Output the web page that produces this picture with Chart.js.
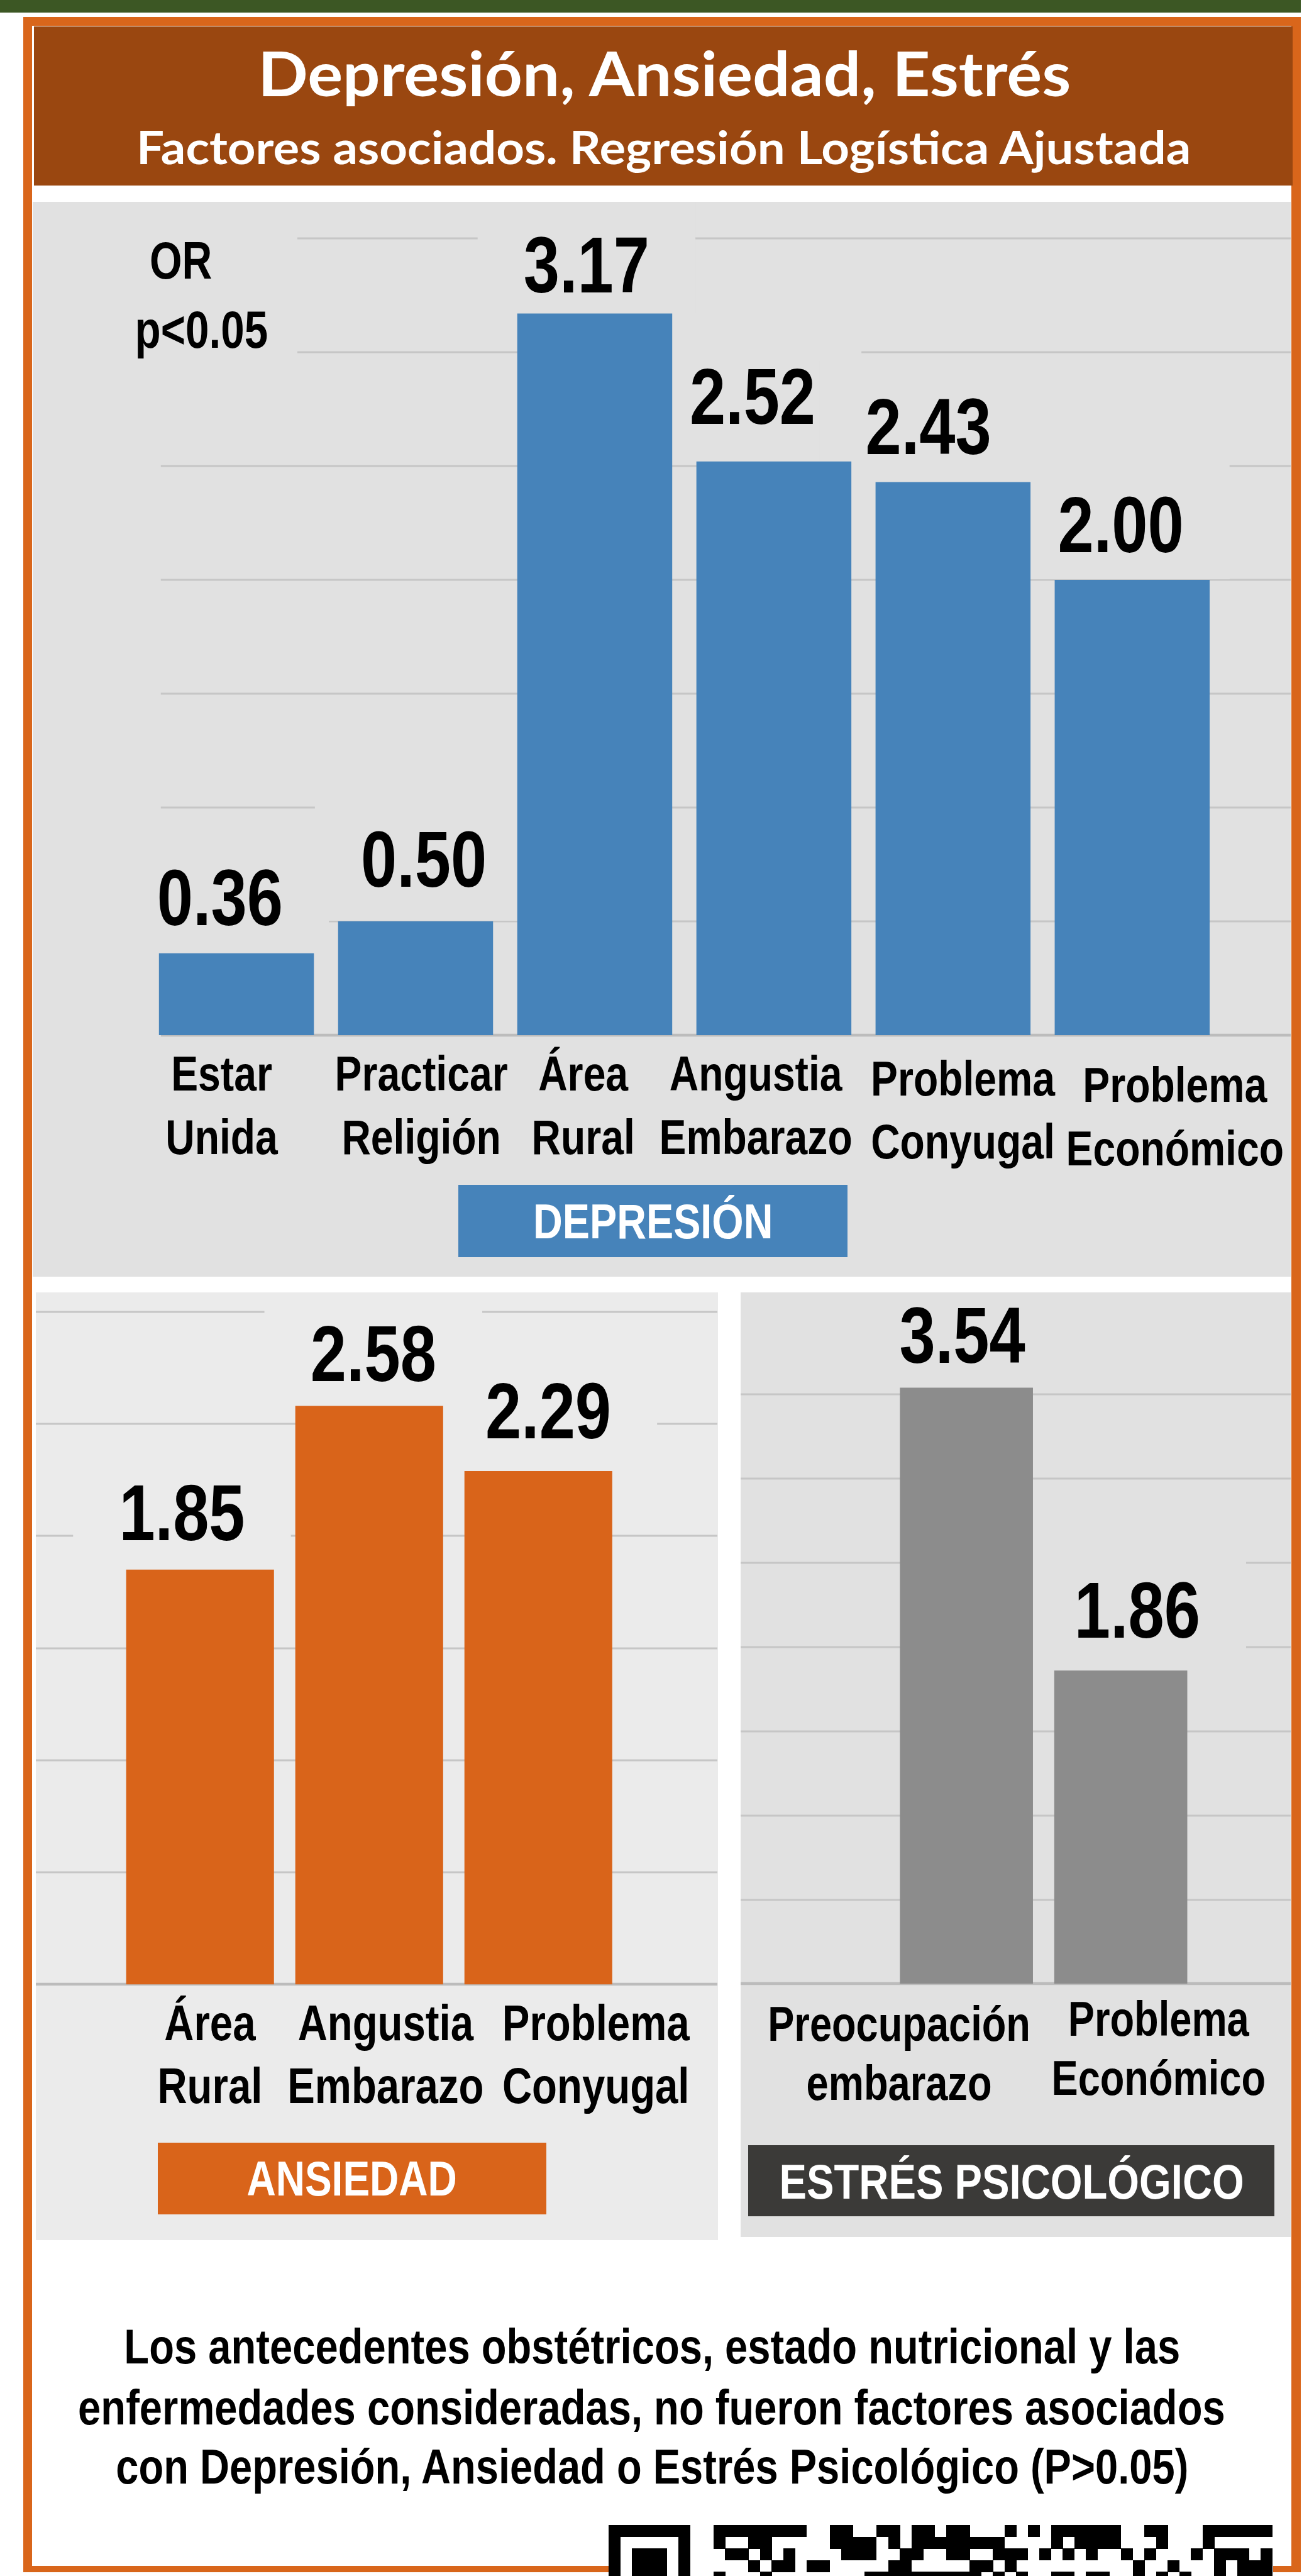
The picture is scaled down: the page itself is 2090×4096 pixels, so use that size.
<!DOCTYPE html>
<html lang="es">
<head>
<meta charset="utf-8">
<title>Depresión, Ansiedad, Estrés</title>
<script src="https://cdn.jsdelivr.net/npm/chart.js@4.4.1/dist/chart.umd.min.js"></script>
<style>
  html, body { margin: 0; padding: 0; background: #fff; }
  body { width: 2090px; height: 4096px; position: relative; overflow: hidden; }
  .abs { position: absolute; box-sizing: border-box; }
  .txt { position: absolute; white-space: nowrap; transform-origin: 50% 50%; }
</style>
</head>
<body>
<script>
// ---- data ----
const depLabels = [['Estar', 'Unida'], ['Practicar', 'Religión'], ['Área', 'Rural'], ['Angustia', 'Embarazo'], ['Problema', 'Conyugal'], ['Problema', 'Económico']]
const depOR = [0.36, 0.50, 3.17, 2.52, 2.43, 2.00]
const ansLabels = [['Área', 'Rural'], ['Angustia', 'Embarazo'], ['Problema', 'Conyugal']]
const ansOR = [1.85, 2.58, 2.29]
const estLabels = [['Preocupación', 'embarazo'], ['Problema', 'Económico']]
const estOR = [3.54, 1.86]
const gridStep = 0.5
const title = 'Depresión, Ansiedad, Estrés'
const subtitle = 'Factores asociados. Regresión Logística Ajustada'
const orNote = ['OR', 'p<0.05']
const footNote = [
  'Los antecedentes obstétricos, estado nutricional y las',
  'enfermedades consideradas, no fueron factores asociados',
  'con Depresión, Ansiedad o Estrés Psicológico (P>0.05)'
]

// everything below is measured on an 800 px wide copy and scaled up
const U = 2090 / 800
const page = document.body

const probe = document.createElement('canvas').getContext('2d')
const probeW = f => { probe.font = 'bold 100px ' + f; return probe.measureText('Embarazo Económico').width }
const hasNarrow = probeW('"Liberation Sans Narrow", monospace') !== probeW('monospace')
const NARROW = hasNarrow ? '"Liberation Sans Narrow", "Liberation Sans", sans-serif' : '"Liberation Sans", Arial, sans-serif'
const SX = hasNarrow ? 1 : 0.82
const LATO = 'Lato, "Open Sans", sans-serif'

function rect(x, y, w, h, bg) {
  const d = document.createElement('div')
  d.className = 'abs'
  Object.assign(d.style, { left: x * U + 'px', top: y * U + 'px', width: w * U + 'px', height: h * U + 'px', background: bg })
  page.appendChild(d)
  return d
}

// cx, cy = centre of the capitals; w = width the line should take
function text(str, cx, cy, fs, w, color, family, capMid) {
  const s = document.createElement('div')
  s.className = 'txt'
  s.textContent = str
  s.style.font = `bold ${fs * U}px ${family}`
  s.style.lineHeight = fs * U + 'px'
  s.style.color = color
  page.appendChild(s)
  const nat = s.getBoundingClientRect().width
  s.style.left = (cx * U - nat / 2) + 'px'
  s.style.top = (cy - capMid * fs) * U + 'px'
  s.style.transform = `scaleX(${w * U / nat})`
}

// frame and header
rect(0, 0, 792, 7.7, '#3c5724')
const frame = rect(14.3, 10.4, 777.7, 1555.3, 'transparent')
frame.style.borderStyle = 'solid'
frame.style.borderColor = '#d9661b'
frame.style.borderWidth = `${5.6 * U}px ${6 * U}px ${4.1 * U}px ${5.7 * U}px`
rect(20.5, 16, 766.5, 97, '#9a4710')
text(title, 404.5, 45.4, 37.4, 495, '#fff', LATO, 0.529)
text(subtitle, 404, 90, 27.9, 642, '#fff', LATO, 0.529)

function drawScaled(ctx, str, x, y) {
  ctx.save()
  ctx.translate(x, y)
  ctx.scale(SX, 1)
  ctx.fillText(str, 0, 0)
  ctx.restore()
}

function valueSpots(chart, o) {
  const ctx = chart.ctx
  ctx.font = `bold ${o.valSize * U}px ${NARROW}`
  return chart.getDatasetMeta(0).data.map((bar, i) => {
    const str = chart.data.datasets[0].data[i].toFixed(2)
    return { str, x: bar.x + o.valNudge[i] * U, y: bar.y - o.valGap[i] * U, top: bar.y, w: ctx.measureText(str).width * SX }
  })
}

const orPanel = {
  id: 'orPanel',
  beforeDatasetsDraw(chart, args, o) {
    const { ctx, scales: { y } } = chart
    ctx.save()
    y.ticks.forEach(t => {
      const k = t.value / gridStep
      if (Math.abs(k - Math.round(k)) > 1e-6 || t.value > o.gridTop) return
      const py = Math.round(y.getPixelForValue(t.value))
      const base = t.value === 0
      ctx.strokeStyle = base ? '#bcbcbc' : '#c6c6c6'
      ctx.lineWidth = (base ? 1.8 : 1.1) * U
      ctx.beginPath()
      ctx.moveTo(o.gridFrom * U, py)
      ctx.lineTo(chart.width, py)
      ctx.stroke()
    })
    // plates behind the value labels hide the grid, as in the original
    ctx.fillStyle = o.plate
    valueSpots(chart, o).forEach(s => {
      const top = s.y - (o.valSize * 0.716 + 22) * U
      ctx.fillRect(s.x - s.w / 2 - 28 * U, top, s.w + 56 * U, s.top - top - 1)
    })
    ctx.restore()
  },
  afterDatasetsDraw(chart, args, o) {
    const { ctx, chartArea, scales: { x } } = chart
    ctx.save()
    ctx.fillStyle = '#000'
    ctx.textAlign = 'center'
    ctx.textBaseline = 'alphabetic'
    valueSpots(chart, o).forEach(s => drawScaled(ctx, s.str, s.x, s.y))
    ctx.font = `bold ${o.catSize * U}px ${NARROW}`
    ctx.textBaseline = 'middle'
    chart.data.labels.forEach((lines, i) => {
      const px = x.getPixelForValue(i) + o.catNudge[i] * U
      lines.forEach((line, j) => {
        const py = chartArea.bottom + (o.catPad + o.catLh * (j + 0.5) + (o.catDy ? o.catDy[i] : 0)) * U
        drawScaled(ctx, line, px, py)
      })
    })
    ctx.restore()
  }
}

function makeChart(labels, values, p) {
  rect(p.panel.x, p.panel.y, p.panel.w, p.panel.h, p.plate)
  const cv = document.createElement('canvas')
  cv.width = Math.round(p.panel.w * U)
  cv.height = Math.round(p.panel.h * U)
  cv.className = 'abs'
  cv.style.left = p.panel.x * U + 'px'
  cv.style.top = p.panel.y * U + 'px'
  page.appendChild(cv)
  const xh = (p.panel.y + p.panel.h - p.plot.base) * U
  new Chart(cv, {
    type: 'bar',
    data: {
      labels: labels,
      datasets: [{ data: values, backgroundColor: p.color, borderWidth: 0, barPercentage: p.barPct, categoryPercentage: 1 }]
    },
    options: {
      responsive: false,
      animation: false,
      layout: { padding: { left: (p.plot.left - p.panel.x) * U, right: (p.panel.x + p.panel.w - p.plot.right) * U, top: 0, bottom: 0 } },
      plugins: {
        legend: { display: false },
        tooltip: { enabled: false },
        orPanel: p
      },
      scales: {
        x: {
          ticks: { display: false },
          grid: { display: false, drawTicks: false },
          border: { display: false },
          afterFit: s => { s.height = xh }
        },
        y: {
          min: 0,
          max: p.yMax,
          ticks: { display: false, stepSize: gridStep },
          grid: { display: false, drawTicks: false },
          border: { display: false },
          afterFit: s => { s.width = 0 }
        }
      }
    },
    plugins: [orPanel]
  })
}

makeChart(depLabels, depOR, {
  panel: { x: 20, y: 123, w: 766, h: 654 },
  plot: { left: 89.5, right: 744, base: 630 },
  yMax: 507 / 138.5, gridFrom: 78, gridTop: 3.5, barPct: 0.865,
  color: '#4683ba', plate: '#e1e1e1',
  catSize: 30, catLh: 38.6, catPad: 6,
  catNudge: [-9, 3.5, -7, -11, 6, 26], catDy: [0, 0, 0, 0, 3, 7],
  valSize: 48, valGap: [17, 21, 13, 23, 17, 17], valNudge: [-10, 5, -5, -13, -15, -7]
})
makeChart(ansLabels, ansOR, {
  panel: { x: 22, y: 786.7, w: 415, h: 576.9 },
  plot: { left: 70.5, right: 379.5, base: 1208 },
  yMax: (1208 - 786.7) / 136.5, gridFrom: 0, gridTop: 3, barPct: 0.874,
  color: '#d9641a', plate: '#ebebeb',
  catSize: 30.5, catLh: 38.6, catPad: 6,
  catNudge: [6, 10, 35],
  valSize: 48, valGap: [18, 15, 20], valNudge: [-11, 2.5, 6]
})
makeChart(estLabels, estOR, {
  panel: { x: 451, y: 786.7, w: 335, h: 574.9 },
  plot: { left: 541.5, right: 729.5, base: 1207.5 },
  yMax: (1207.5 - 786.7) / 102.5, gridFrom: 0, gridTop: 3.5, barPct: 0.862,
  color: '#8c8c8c', plate: '#e1e1e1',
  catSize: 29.5, catLh: 36, catPad: 8.5,
  catNudge: [-41, 23], catDy: [0, -3],
  valSize: 48, valGap: [15, 20], valNudge: [-2.5, 10]
})

// OR note, sitting on its own plate over the grid
rect(20, 123, 161, 102, '#e1e1e1')
text(orNote[0], 110, 158.5, 32, 38, '#000', NARROW, 0.4885)
text(orNote[1], 122.5, 200.5, 32, 81, '#000', NARROW, 0.4885)

// group tags
rect(279, 721, 237, 44, '#4683ba')
text('DEPRESIÓN', 397.5, 743, 30, 146, '#fff', NARROW, 0.4885)
rect(96, 1304, 236.6, 43.6, '#d9641a')
text('ANSIEDAD', 214.3, 1325.8, 30, 128, '#fff', NARROW, 0.4885)
rect(455.6, 1305.8, 320.4, 43.2, '#3b3a38')
text('ESTRÉS PSICOLÓGICO', 615.8, 1327.4, 30, 283, '#fff', NARROW, 0.4885)

// footnote
text(footNote[0], 397, 1428, 30, 643, '#000', NARROW, 0.4885)
text(footNote[1], 396.6, 1465, 30, 698.4, '#000', NARROW, 0.4885)
text(footNote[2], 397, 1501, 30, 653, '#000', NARROW, 0.4885)

// top rows of the QR code, cut by the page edge
const qrRows = [
  '1111111001111111100110011011011000101011111100110001111111',
  '1000001001001100000111101011111111000010111100010001000001',
  '1011101000110101000011100110011001110101010010100010111010',
  '1011101000001011011000001100000110100000000001001000101110',
  '1011101001000100000000111111111101010011011001010100101110'
]
const qrBox = rect(370.7, 1537, 404.3, 31, '#fff')
const qr = document.createElement('canvas')
qr.width = Math.round(404.3 * U)
qr.height = Math.round(31 * U)
qrBox.appendChild(qr)
const qctx = qr.getContext('2d')
qctx.fillStyle = '#000'
const mod = 7.09 * U
qrRows.forEach((row, r) => {
  for (let c = 0; c < 57; c++) {
    if (row[c] === '1') qctx.fillRect(Math.round(c * mod), Math.round(r * mod), Math.ceil(mod), Math.ceil(mod))
  }
})
</script>
</body>
</html>
